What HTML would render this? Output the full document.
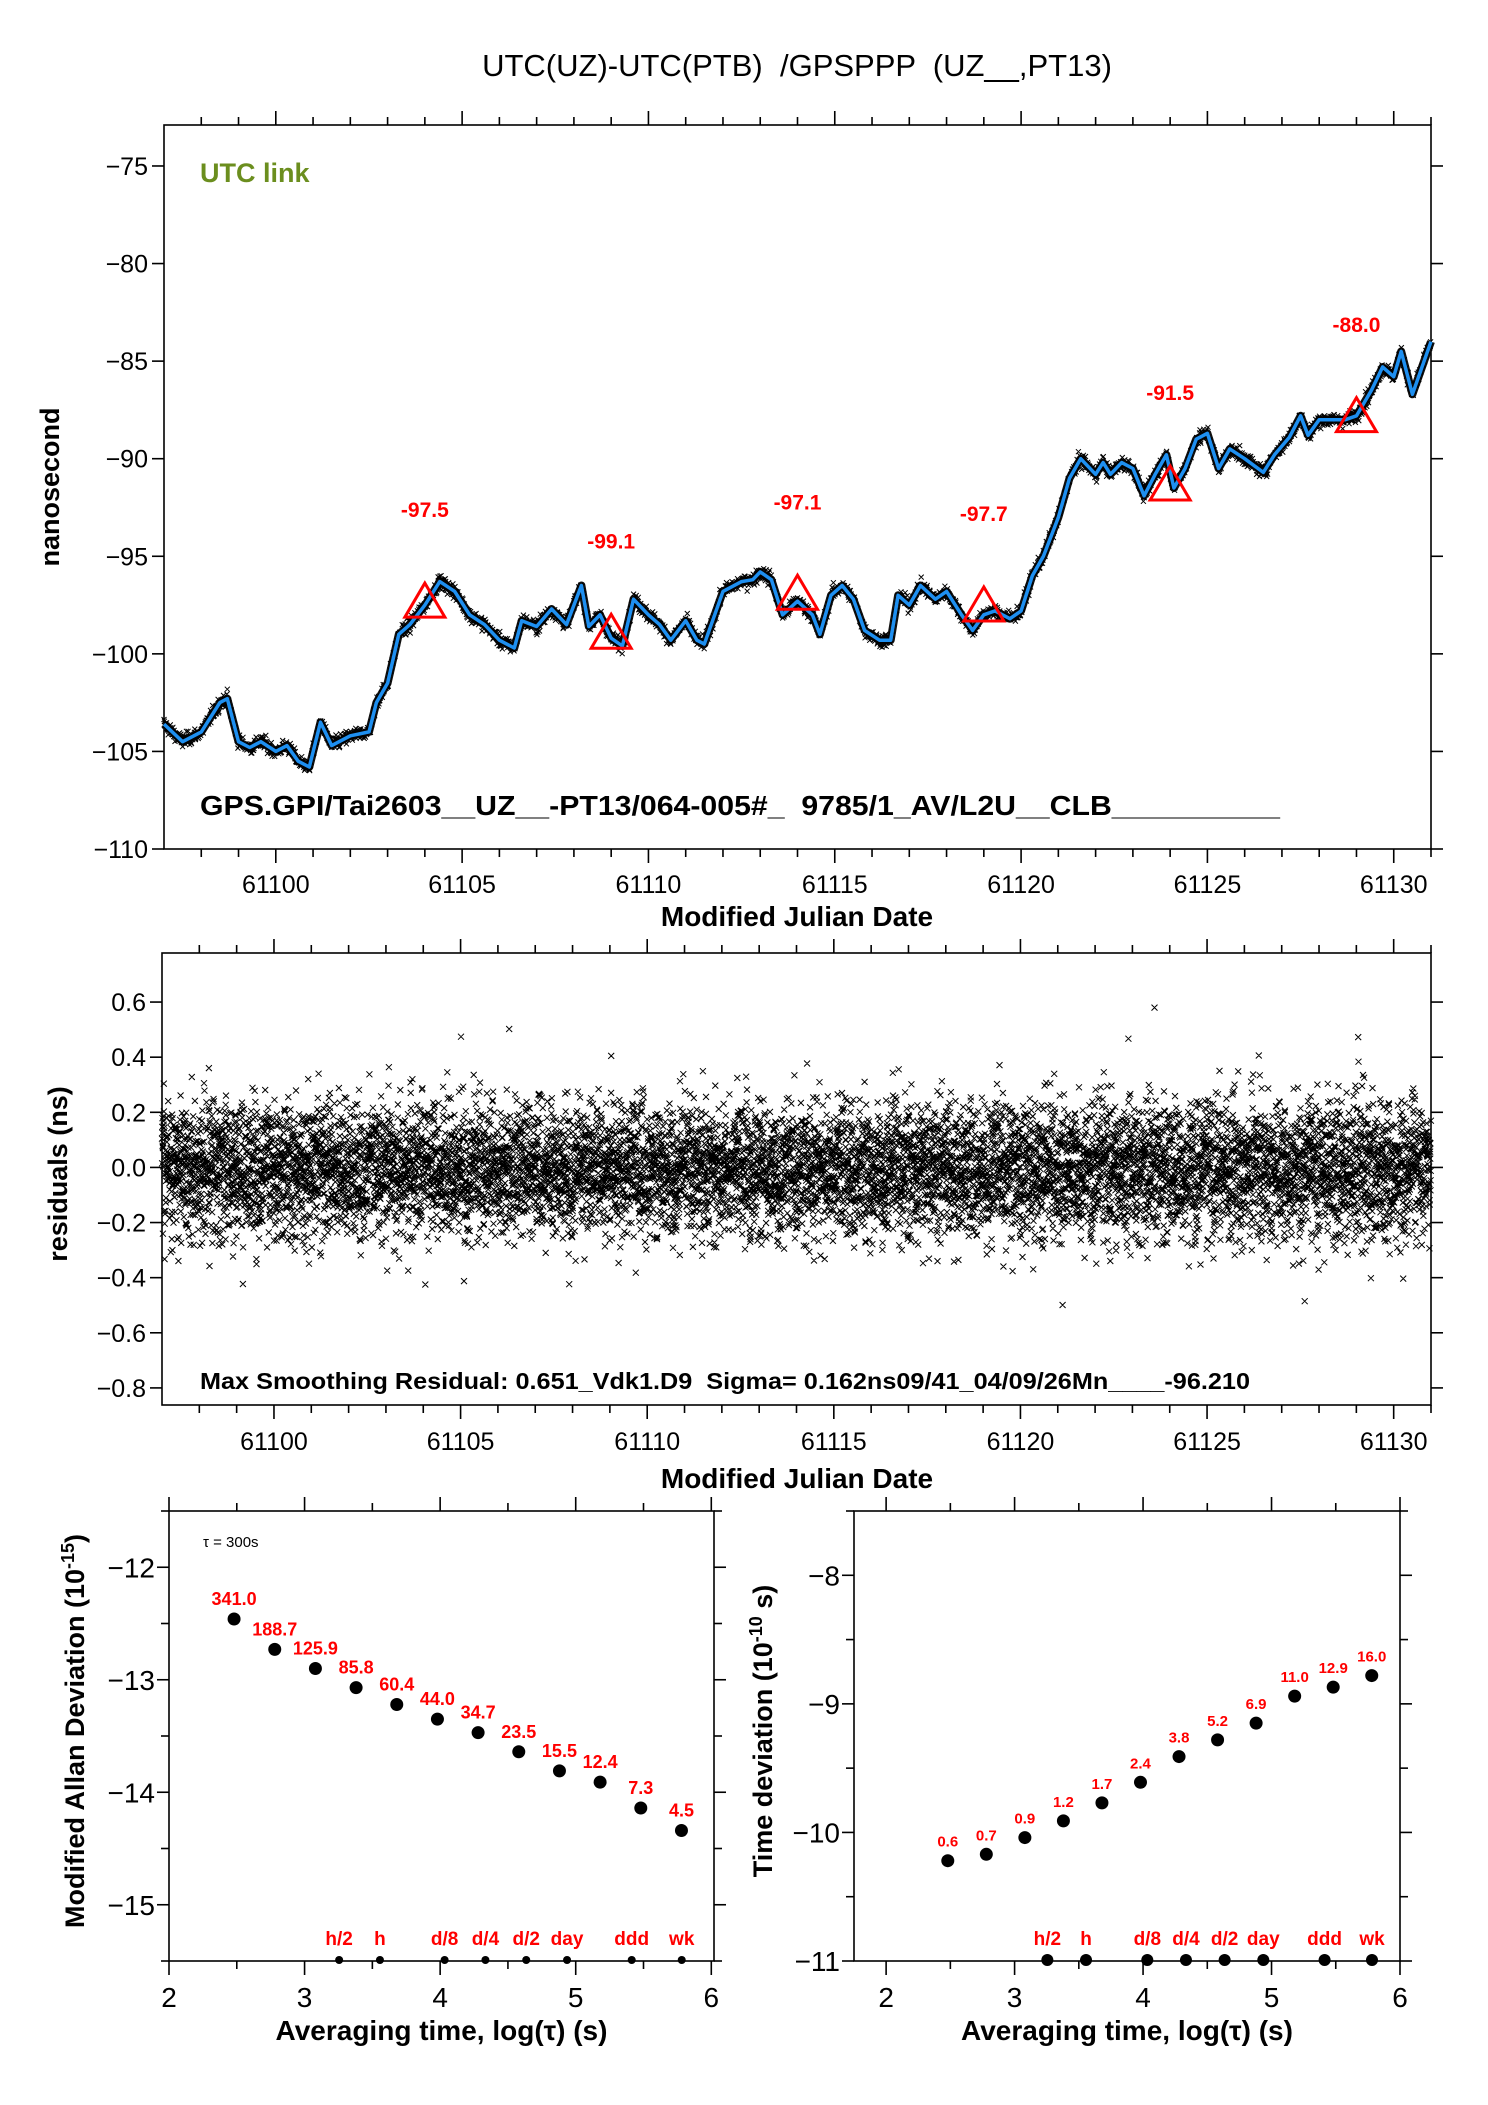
<!DOCTYPE html>
<html><head><meta charset="utf-8"><style>
html,body{margin:0;padding:0;background:#fff}
svg{display:block;font-family:"Liberation Sans",sans-serif}
text{white-space:pre}
</style></head><body>
<svg id="c" xmlns="http://www.w3.org/2000/svg" width="1488" height="2105" viewBox="0 0 1488 2105">
<text x="797" y="76" font-size="31" text-anchor="middle" xml:space="preserve">UTC(UZ)-UTC(PTB)  /GPSPPP  (UZ__,PT13)</text>
<g id="p1"></g>
<g id="p2"></g>
<g id="p3"></g>
<g id="p4"></g>
</svg>
<script>
// ---- panel 1 data ----
const mjdDays = [61097.0,61097.5,61098,61098.5,61098.7,61099,61099.3,61099.6,61100,61100.3,61100.6,61100.9,61101.2,61101.5,61102,61102.5,61102.7,61103,61103.3,61103.6,61104,61104.4,61104.8,61105.2,61105.6,61106,61106.4,61106.6,61107,61107.4,61107.8,61108.2,61108.4,61108.7,61109,61109.3,61109.6,61110,61110.3,61110.6,61111,61111.3,61111.5,61112,61112.5,61112.8,61113,61113.3,61113.6,61114,61114.4,61114.6,61114.9,61115.2,61115.5,61115.8,61116.2,61116.5,61116.7,61117,61117.3,61117.7,61118,61118.4,61118.7,61119,61119.3,61119.7,61120,61120.3,61120.6,61121,61121.3,61121.6,61122,61122.2,61122.4,61122.7,61123,61123.3,61123.6,61123.9,61124.1,61124.4,61124.7,61125,61125.3,61125.6,61126,61126.5,61126.8,61127.2,61127.5,61127.7,61128,61128.3,61128.7,61129,61129.4,61129.7,61130,61130.2,61130.5,61131];
const offsetNs = [-103.6,-104.5,-104,-102.5,-102.3,-104.5,-104.8,-104.5,-105,-104.7,-105.5,-105.8,-103.5,-104.7,-104.2,-104,-102.5,-101.5,-99,-98.5,-97.5,-96.3,-96.8,-98,-98.5,-99.3,-99.7,-98.3,-98.6,-97.7,-98.5,-96.5,-98.6,-98,-99.2,-99.6,-97.2,-98,-98.5,-99.3,-98.3,-99.3,-99.5,-96.8,-96.3,-96.2,-95.8,-96.2,-98,-97.3,-98,-99,-97,-96.5,-97.2,-98.8,-99.3,-99.3,-97,-97.5,-96.5,-97.2,-96.8,-98,-98.8,-98,-97.8,-98.2,-97.8,-96,-95,-93,-91,-90,-90.8,-90.2,-90.8,-90.2,-90.5,-91.9,-90.8,-89.8,-91.5,-90.5,-89,-88.7,-90.5,-89.5,-90,-90.7,-89.8,-88.9,-87.8,-88.8,-88,-88,-88,-87.8,-86.5,-85.3,-85.8,-84.5,-86.7,-84];
const markDays = [61104,61109,61114,61119,61124,61129];
const markVals = [-97.5,-99.1,-97.1,-97.7,-91.5,-88.0];
const p1YTicks = [-75,-80,-85,-90,-95,-100,-105,-110];
const mjdTicks = [61100,61105,61110,61115,61120,61125,61130];
// ---- panel 2 data ----
const resTicks = [0.6,0.4,0.2,0.0,-0.2,-0.4,-0.6,-0.8];
const resSigma = 0.162;
// ---- panel 3/4 data ----
const logTau = [2.48,2.78,3.08,3.38,3.68,3.98,4.28,4.58,4.88,5.18,5.48,5.78];
const madLog = [-12.46,-12.73,-12.9,-13.07,-13.22,-13.35,-13.47,-13.64,-13.81,-13.91,-14.14,-14.34];
const madLabels = ["341.0","188.7","125.9","85.8","60.4","44.0","34.7","23.5","15.5","12.4","7.3","4.5"];
const tdevLog = [-10.22,-10.17,-10.04,-9.91,-9.77,-9.61,-9.41,-9.28,-9.15,-8.94,-8.87,-8.78];
const tdevLabels = ["0.6","0.7","0.9","1.2","1.7","2.4","3.8","5.2","6.9","11.0","12.9","16.0"];
const periodNames = ["h/2","h","d/8","d/4","d/2","day","ddd","wk"];
const periodLog = [3.255,3.556,4.033,4.334,4.635,4.936,5.413,5.782];
const p3YTicks = [-12,-13,-14,-15];
const p4YTicks = [-8,-9,-10,-11];
const logTicks = [2,3,4,5,6];

const NS="http://www.w3.org/2000/svg";
function mk(parent,tag,attrs,text){const e=document.createElementNS(NS,tag);for(const k in attrs)e.setAttribute(k,attrs[k]);if(text!==undefined)e.textContent=text;parent.appendChild(e);return e;}
function lin(d0,d1,r0,r1){return v=>r0+(v-d0)*(r1-r0)/(d1-d0);}
let seed=12345;function rnd(){seed=(seed*1103515245+12345)%2147483648;return seed/2147483648;}
function gauss(){return (rnd()+rnd()+rnd()+rnd()+rnd()+rnd()-3);}

function frame(g,L,T,R,B){
  const f=mk(g,'rect',{x:L,y:T,width:R-L,height:B-T,fill:'none',stroke:'#000','stroke-width':1.6});
  
  
}
function tick(g,x1,y1,x2,y2,w){const t=mk(g,'line',{x1,y1,x2,y2,stroke:'#000','stroke-width':w||1.6});
  
  }
function interp(d){let i=0;while(i<mjdDays.length-2&&mjdDays[i+1]<d)i++;
  const f=(d-mjdDays[i])/(mjdDays[i+1]-mjdDays[i]);return offsetNs[i]+(offsetNs[i+1]-offsetNs[i])*Math.max(0,Math.min(1,f));}

// ================= Panel 1 =================
(function(){
  const g=document.getElementById('p1');
  const L=164,R=1431,T=125,B=849;
  const X=lin(61097,61131,L,R), Y=lin(-72.9,-110,T,B);
  frame(g,L,T,R,B);
  for(let d=61098;d<=61131;d++){const maj=d%5===0;const len=maj?14:8;
    tick(g,X(d),T,X(d),T-len);tick(g,X(d),B,X(d),B+len);}
  for(const v of p1YTicks){tick(g,L-12,Y(v),L,Y(v));tick(g,R,Y(v),R+12,Y(v));
    const t=mk(g,'text',{x:L-16,y:Y(v)+9,'font-size':25,'text-anchor':'end'},String(v).replace('-','\u2212'));
    
    }
  for(const d of mjdTicks){const t=mk(g,'text',{x:X(d),y:893,'font-size':25,'text-anchor':'middle'},String(d));
    
    }
  let pts=mjdDays.map((d,i)=>X(d).toFixed(1)+','+Y(offsetNs[i]).toFixed(1)).join(' ');
  const band=mk(g,'polyline',{points:pts,fill:'none',stroke:'#111','stroke-width':8,'stroke-linejoin':'round'});
  
  
  // raw measurement crosses texture around the curve
  let dd='';const n=3000;
  for(let i=0;i<n;i++){const day=61097+i*34/n;const v=interp(day)+gauss()*0.25;
    const x=X(day),y=Y(v);dd+=`M${(x-2.5).toFixed(1)} ${(y-2.5).toFixed(1)}l5 5m0 -5l-5 5`;}
  const rc=mk(g,'path',{d:dd,stroke:'#000','stroke-width':1,fill:'none'});
  
  
  const line=mk(g,'polyline',{points:pts,fill:'none',stroke:'#1e8ff0','stroke-width':3.5,'stroke-linejoin':'round'});
  
  
  markDays.forEach((d,i)=>{const cx=X(d),cy=Y(markVals[i]);
    const tr=mk(g,'polygon',{points:`${cx},${cy-22} ${cx-20},${cy+12} ${cx+20},${cy+12}`,fill:'none',stroke:'#f00','stroke-width':3});
    
    
    const t=mk(g,'text',{x:cx,y:Y(markVals[i]+4.5),'font-size':21,'font-weight':'bold',fill:'#f00','text-anchor':'middle'},markVals[i].toFixed(1));
    
    });
  const u=mk(g,'text',{x:200,y:182,'font-size':27,'font-weight':'bold',fill:'#6b8e1e'},'UTC link');
  
  
  const s=mk(g,'text',{x:200,y:815,'font-size':28,'font-weight':'bold',textLength:1080,lengthAdjust:'spacingAndGlyphs'},'GPS.GPI/Tai2603__UZ__-PT13/064-005#_  9785/1_AV/L2U__CLB__________');
  
  
  const xt=mk(g,'text',{x:797,y:926,'font-size':28,'font-weight':'bold','text-anchor':'middle'},'Modified Julian Date');
  
  
  const yt=mk(g,'text',{x:0,y:0,'font-size':27,'font-weight':'bold','text-anchor':'middle',transform:'translate(59,487) rotate(-90)'},'nanosecond');
  
  
})();

// ================= Panel 2 =================
(function(){
  const g=document.getElementById('p2');
  const L=162,R=1431,T=953,B=1405;
  const X=lin(61097,61131,L,R), Y=lin(0.778,-0.862,T,B);
  let d='';const n=9800;let w=0;
  for(let i=0;i<n;i++){const day=61097+i*34/n;w=0.9*w+0.1*gauss();
    let v=resSigma*gauss()*1.05+w*0.12;
    if(rnd()<0.03)v*=1.6;
    if(v>0.58)v=0.58;if(v<-0.66)v=-0.66;
    const x=X(day),y=Y(v);d+=`M${(x-3).toFixed(1)} ${(y-3).toFixed(1)}l6 6m0 -6l-6 6`;}
  const sc=mk(g,'path',{d,stroke:'#000','stroke-width':1,fill:'none'});
  
  
  frame(g,L,T,R,B);
  for(let dd=61098;dd<=61131;dd++){const maj=dd%5===0;const len=maj?14:8;
    tick(g,X(dd),T,X(dd),T-len);tick(g,X(dd),B,X(dd),B+len);}
  for(const v of resTicks){tick(g,L-12,Y(v),L,Y(v));tick(g,R,Y(v),R+12,Y(v));
    const t=mk(g,'text',{x:L-16,y:Y(v)+9,'font-size':25,'text-anchor':'end'},v.toFixed(1).replace('-','\u2212'));
    
    }
  for(const dd of mjdTicks){const t=mk(g,'text',{x:X(dd),y:1450,'font-size':25,'text-anchor':'middle'},String(dd));
    
    }
  const m=mk(g,'text',{x:200,y:1389,'font-size':23,'font-weight':'bold',textLength:1050,lengthAdjust:'spacingAndGlyphs'},'Max Smoothing Residual: 0.651_Vdk1.D9  Sigma= 0.162ns09/41_04/09/26Mn____-96.210');
  
  
  const xt=mk(g,'text',{x:797,y:1488,'font-size':28,'font-weight':'bold','text-anchor':'middle'},'Modified Julian Date');
  
  
  const yt=mk(g,'text',{x:0,y:0,'font-size':27,'font-weight':'bold','text-anchor':'middle',transform:'translate(67,1174) rotate(-90)'},'residuals (ns)');
  
  
})();

// ================= Panels 3 & 4 =================
function stabPanel(id,L,R,xmin,xmax,ymax,ymin,ticks,vals,labels,labSize,dotR,perR,titleX,titleMain,titleExp,titleTail){
  const g=document.getElementById(id);
  const T=1511,B=1961;
  const X=lin(xmin,xmax,L,R), Y=lin(ymax,ymin,T,B);
  frame(g,L,T,R,B);
  for(let v=2;v<=6.001;v+=0.5){const maj=Math.abs(v-Math.round(v))<0.01;const len=maj?14:8;
    tick(g,X(v),T,X(v),T-len);tick(g,X(v),B,X(v),B+len);}
  for(let v=Math.ceil(ymin*2)/2;v<=ymax;v+=0.5){const maj=Math.abs(v-Math.round(v))<0.01;
    tick(g,L-(maj?12:8),Y(v),L,Y(v));tick(g,R,Y(v),R+(maj?12:8),Y(v));}
  for(const v of ticks){const t=mk(g,'text',{x:L-14,y:Y(v)+10,'font-size':28,'text-anchor':'end'},String(v).replace('-','\u2212'));
    
    }
  for(const v of logTicks){const t=mk(g,'text',{x:X(v),y:2007,'font-size':28,'text-anchor':'middle'},String(v));
    
    }
  logTau.forEach((lt,i)=>{const cx=X(lt),cy=Y(vals[i]);
    const c=mk(g,'circle',{cx,cy,r:dotR,fill:'#000'});
    
    
    const t=mk(g,'text',{x:cx,y:cy-14,'font-size':labSize,'font-weight':'bold',fill:'#f00','text-anchor':'middle'},labels[i]);
    
    });
  periodLog.forEach((p,i)=>{const cx=X(p);
    const c=mk(g,'circle',{cx,cy:B-1,r:perR,fill:'#000'});
    
    
    const t=mk(g,'text',{x:cx,y:B-16,'font-size':19,'font-weight':'bold',fill:'#f00','text-anchor':'middle'},periodNames[i]);
    
    });
  const xt=mk(g,'text',{x:(L+R)/2,y:2040,'font-size':28,'font-weight':'bold','text-anchor':'middle'},'Averaging time, log(\u03c4) (s)');
  
  
  const yt=mk(g,'text',{x:0,y:0,'font-size':27,'font-weight':'bold','text-anchor':'middle',transform:`translate(${titleX},1731) rotate(-90)`});
  
  
  mk(yt,'tspan',{},titleMain);
  mk(yt,'tspan',{'font-size':18,dy:-10},titleExp);
  mk(yt,'tspan',{dy:10},titleTail);
  return g;
}
const g3=stabPanel('p3',169,714,2,6.02,-11.5,-15.5,p3YTicks,madLog,madLabels,18,6.5,4,84,'Modified Allan Deviation (10','-15',')');
const g4=stabPanel('p4',854,1400,1.75,6.0,-7.5,-11,p4YTicks,tdevLog,tdevLabels,15,6.5,6,772,'Time deviation (10','-10',' s)');
const tau=mk(g3,'text',{x:203,y:1547,'font-size':15},'\u03c4 = 300s');


</script>
</body></html>
